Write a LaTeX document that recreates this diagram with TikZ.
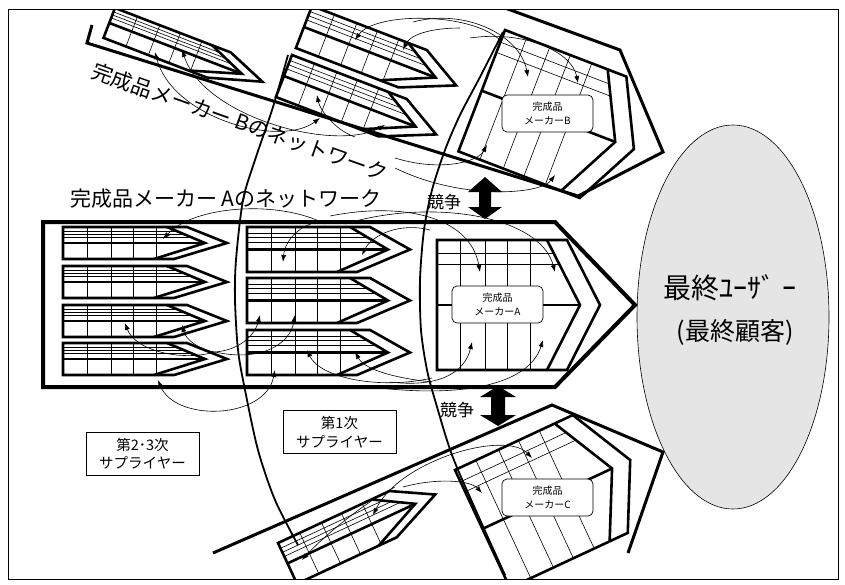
\documentclass[tikz,border=0pt]{standalone}
\usepackage{fontspec}
\setmainfont{Noto Sans CJK JP}
\usetikzlibrary{arrows.meta,shapes.geometric}
\newcommand{\pencilshape}[3]{%
\begin{scope}[#1]
 \begin{scope}
  \clip (0,0) -- ({#2-60},0) -- ({#2-22},{#3/2}) -- ({#2-73},#3) -- (0,#3) -- cycle;
  \foreach \gx in {24,48,70,93} \draw[thn] (\gx,0) -- (\gx,#3);
  \foreach \gf in {0.13,0.23,0.33} \draw[thn] (0,{\gf*#3}) -- (#2,{\gf*#3});
 \end{scope}
 \draw[thk] (0,0) -- ({#2-40},0) -- (#2,{#3/2}) -- ({#2-53},#3) -- (0,#3) -- cycle;
 \draw[thk] ({#2-60},0) -- ({#2-22},{#3/2}) -- ({#2-73},#3);
 \draw[thk] (0,{#3/2}) -- ({#2-22},{#3/2});
\end{scope}}
\newcommand{\makershape}[1]{%
\begin{scope}[#1]
 \begin{scope}
  \clip (0,0) -- (110,0) -- (143,65) -- (110,130) -- (0,130) -- cycle;
  \foreach \gx in {23,48,70,93} \draw[thn] (\gx,0) -- (\gx,130);
  \foreach \gy in {13,24} \draw[thn] (0,\gy) -- (150,\gy);
 \end{scope}
 \draw[thk] (0,0) -- (130,0) -- (163,65) -- (130,130) -- (0,130) -- cycle;
 \draw[thk] (110,0) -- (143,65) -- (110,130);
 \draw[thk] (0,65) -- (143,65);
\end{scope}}
\begin{document}
\begin{tikzpicture}[x=1pt,y=-1pt,
  thk/.style={line width=2.6pt, line join=miter},
  thn/.style={line width=0.6pt},
  arr/.style={line width=0.6pt, -{Latex[length=7pt,width=5pt]}},
  darr/.style={line width=0.6pt, {Latex[length=7pt,width=5pt]}-{Latex[length=7pt,width=5pt]}},
  netA/.style={line width=4pt, line join=miter},
  netBC/.style={line width=3pt, line join=miter},
  arcline/.style={line width=1.8pt},
  lab/.style={draw, line width=0.7pt, rounded corners=5pt, fill=white, align=center,
    font=\fontsize{10}{13.5}\selectfont, minimum width=91pt, minimum height=37pt, inner sep=1pt},
  sbox/.style={draw, line width=0.7pt, fill=white, align=center,
    font=\fontsize{14.5}{18.5}\selectfont, minimum width=113pt, minimum height=43pt, inner sep=1pt},
  bigtxt/.style={font=\fontsize{21}{24}\selectfont, inner sep=0pt},
  comp/.style={font=\fontsize{17}{20}\selectfont, inner sep=0pt},
]
\useasboundingbox (0,0) rectangle (845,584);
\begin{scope}
\clip (8,9) rectangle (838,579);
% final user
\node[draw, ellipse, line width=0.6pt, fill=gray!20, minimum width=192pt, minimum height=384pt] (user) at (733,317) {};
% network outlines
\draw[netA] (43,222) -- (555,222) -- (635,305) -- (555,387) -- (43,387) -- cycle;
\draw[netBC] (92,25) -- (87,43) -- (578,196) -- (663,152) -- (620,50) -- (505,8);
\draw[netBC] (213,553) -- (552,405) -- (663,452) -- (628,553);
% network A suppliers
\pencilshape{shift={(63,227)}}{164}{32}
\pencilshape{shift={(63,266)}}{164}{32}
\pencilshape{shift={(63,305)}}{164}{32}
\pencilshape{shift={(63,343)}}{164}{32}
\pencilshape{shift={(247,227)}}{163}{45}
\pencilshape{shift={(247,278)}}{163}{45}
\pencilshape{shift={(247,330)}}{163}{45}
\makershape{shift={(437,240)}}
% network B
\pencilshape{shift={(115,8)},rotate=-21}{164}{32}
\pencilshape{shift={(312,6)},rotate=-21}{163}{45}
\pencilshape{shift={(292,55)},rotate=-21}{163}{45}
\makershape{shift={(505,30)},rotate=-21}
% network C
\pencilshape{shift={(278,543)},rotate=25}{163}{45}
\makershape{shift={(455,470)},rotate=25}
% tier boundaries
\draw[arcline] plot[smooth] coordinates {(288,55) (273,107) (255,160) (243,200) (236,260) (235,300) (238,350) (245,390) (258,450) (275,500) (298,545)};
\draw[arcline] plot[smooth] coordinates {(503,32) (480,77) (460,115) (445,150) (432,190) (424,230) (420,280) (421,330) (427,370) (435,400) (452,455) (477,513) (505,575)};
% network A flows
\draw[arr] (325,224) .. controls (280,200) and (195,205) .. (163,239);
\draw[arr] (318,222) .. controls (300,225) and (285,240) .. (283,262);
\draw[arr] (430,230) .. controls (400,222) and (372,235) .. (362,255);
\draw[arr] (215,352) .. controls (180,362) and (135,350) .. (125,323);
\draw[arr] (215,352) .. controls (200,350) and (186,340) .. (182,325);
\draw[arr] (215,352) .. controls (240,350) and (255,335) .. (260,315);
\draw[arr] (215,352) .. controls (260,362) and (290,345) .. (295,315);
\draw[arr] (432,378) .. controls (380,390) and (320,378) .. (307,350);
\draw[arr] (432,382) .. controls (395,378) and (365,370) .. (355,352);
\draw[darr] (158,380) .. controls (175,422) and (265,420) .. (275,370);
\draw[arr] (330,216) .. controls (400,202) and (470,215) .. (480,272);
\draw[arr] (345,224) .. controls (430,198) and (540,215) .. (555,272);
\draw[arr] (390,382) .. controls (440,388) and (465,372) .. (472,342);
\draw[arr] (380,388) .. controls (470,398) and (530,382) .. (543,340);
% network B flows
\draw[darr] (155,52) .. controls (172,118) and (280,148) .. (320,118);
\draw[darr] (182,50) .. controls (205,118) and (335,152) .. (385,125);
\draw[arr] (355,137) .. controls (335,130) and (320,110) .. (317,95);
\draw[arr] (500,40) .. controls (470,12) and (375,12) .. (355,40);
\draw[arr] (460,28) .. controls (430,28) and (410,35) .. (403,50);
\draw[arr] (413,22) .. controls (465,8) and (520,35) .. (528,77);
\draw[arr] (470,38) .. controls (525,30) and (572,52) .. (578,83);
\draw[arr] (395,158) .. controls (440,172) and (478,162) .. (487,145);
\draw[arr] (395,168) .. controls (460,200) and (540,195) .. (555,175);
% network C flows
\draw[darr] (373,515) .. controls (400,460) and (505,430) .. (532,458);
\draw[arr] (395,487) .. controls (360,505) and (320,540) .. (302,560);
\draw[arr] (403,487) .. controls (435,478) and (470,480) .. (482,493);
% maker labels
\node[lab] (mA) at (497.5,304.5) {完成品\\メーカーA};
\node[lab] (mB) at (547.5,113.5) {完成品\\メーカーB};
\node[lab] (mC) at (547.5,497.5) {完成品\\メーカーC};
% competition arrows
\fill (485,177) -- (502,192) -- (491,192) -- (491,207) -- (502,207) -- (485,219) -- (468,207) -- (479,207) -- (479,192) -- (468,192) -- cycle;
\fill (498,386) -- (516,397) -- (505,397) -- (505,415) -- (516,415) -- (498,426) -- (480,415) -- (491,415) -- (491,397) -- (480,397) -- cycle;
\node[comp] (k1) at (444,202) {競争};
\node[comp] (k2) at (457,410) {競争};
% texts
\node[bigtxt] (tA) at (226,199) {完成品メーカー Aのネットワーク};
\node[bigtxt, rotate=-19.6] (tB) at (240,122) {完成品メーカー Bのネットワーク};
\node[font=\fontsize{28}{30}\selectfont, inner sep=0pt] (u1) at (730,288) {最終ﾕｰｻﾞ ｰ};
\node[font=\fontsize{25}{28}\selectfont, inner sep=0pt] (u2) at (735,332) {(最終顧客)};
\node[sbox] (s1) at (339.5,432) {第1次\\サプライヤー};
\node[sbox] (s2) at (142.5,453.5) {第2･3次\\サプライヤー};
\end{scope}
\draw[line width=0.8pt] (8,9) rectangle (838,579);
\end{tikzpicture}
\end{document}
